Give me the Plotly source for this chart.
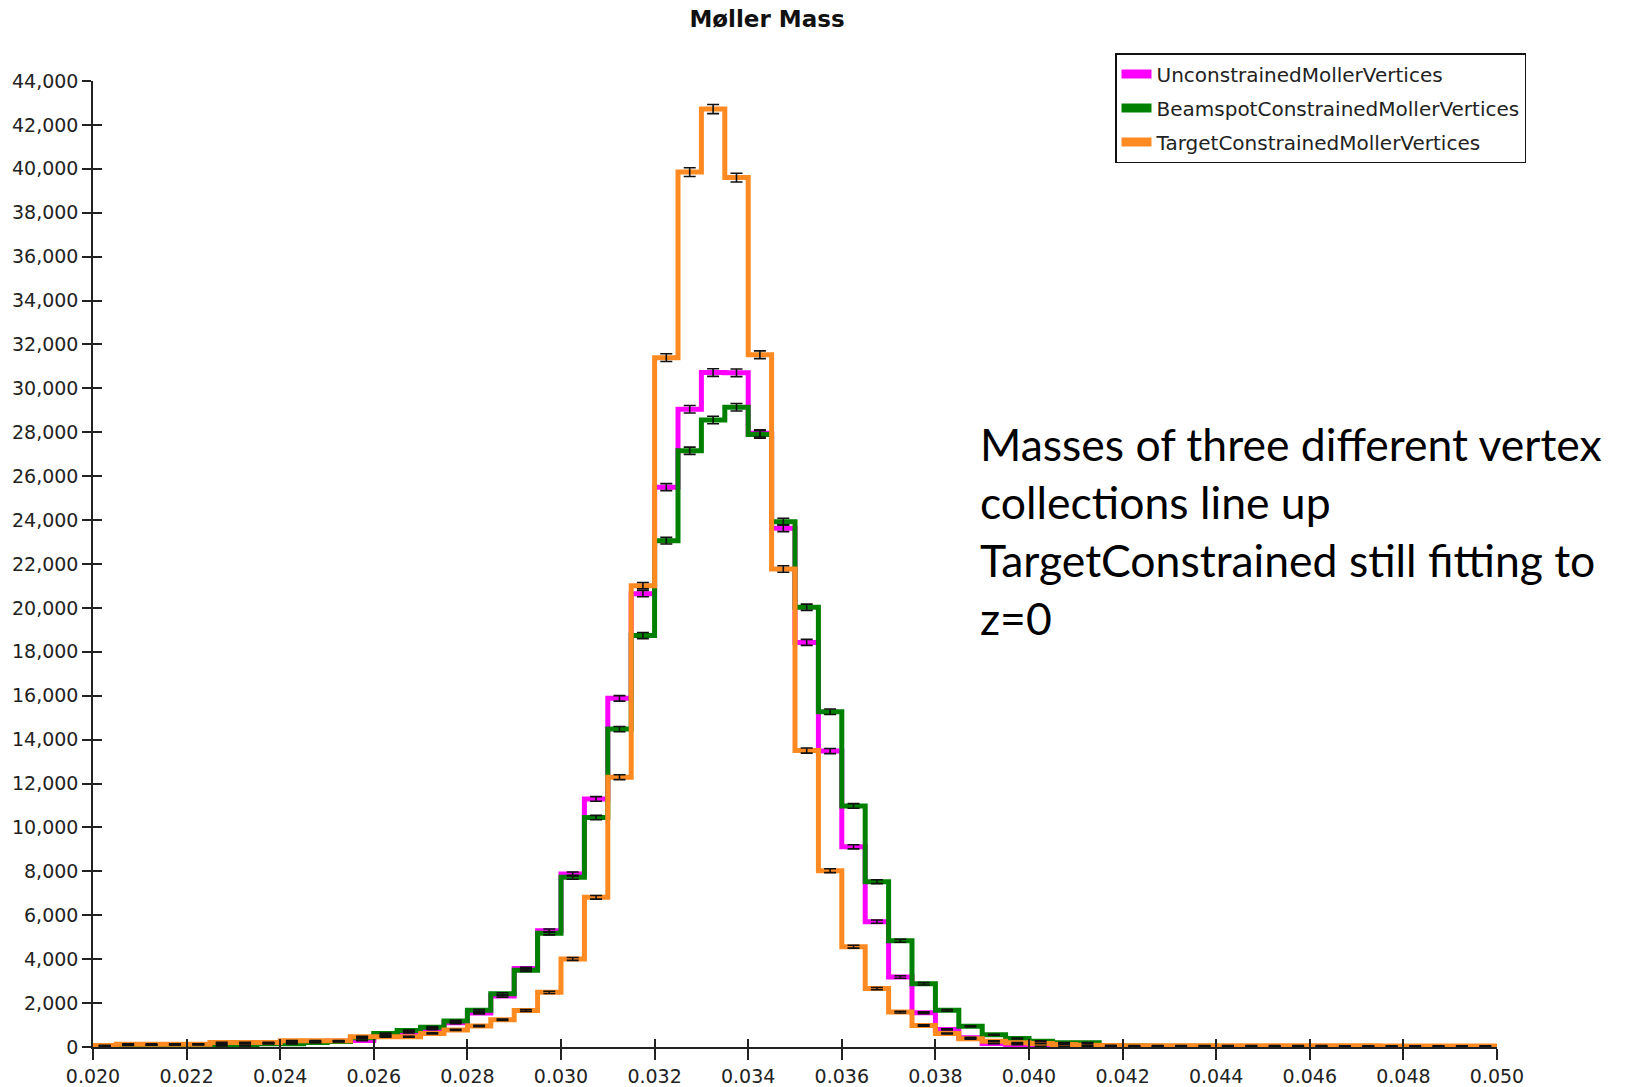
import numpy as np
import plotly.graph_objects as go

# ---- data (counts per bin, bins of width 0.0005 from 0.020 to 0.050) ----
bin_start = 0.020
bin_width = 0.0005

unconstrained = [40, 90, 95, 100, 110, 140, 150, 170, 210, 230,
                 260, 300, 520, 660, 820, 1100, 1550, 2320, 3570, 5300,
                 7880, 11300, 15880, 20650, 25500, 29050, 30720, 30710, 27950, 23630,
                 18430, 13480, 9120, 5710, 3190, 1560, 800, 420, 160, 110,
                 30, 20, 15, 12, 10, 10, 8, 8, 6, 6,
                 5, 5, 4, 4, 3, 3, 3, 2, 2, 2]
beamspot = [40, 80, 90, 100, 110, 60, 60, 150, 150, 200,
            250, 420, 615, 750, 900, 1180, 1670, 2420, 3500, 5180,
            7730, 10450, 14480, 18740, 23060, 27160, 28560, 29140, 27900, 23930,
            20030, 15270, 10980, 7530, 4840, 2880, 1670, 940, 560, 390,
            265, 190, 190, 50, 40, 35, 30, 30, 25, 25,
            20, 20, 20, 15, 15, 15, 12, 12, 10, 10]
target = [70, 130, 130, 130, 130, 205, 205, 205, 280, 280,
          280, 470, 465, 465, 620, 780, 960, 1240, 1660, 2490,
          4010, 6820, 12290, 21010, 31400, 39850, 42720, 39600, 31530, 21770,
          13500, 8030, 4570, 2660, 1590, 980, 615, 375, 265, 190,
          160, 114, 80, 65, 60, 60, 60, 58, 58, 55,
          55, 55, 55, 52, 52, 50, 50, 50, 50, 50]

series_names = ["UnconstrainedMollerVertices",
                "BeamspotConstrainedMollerVertices",
                "TargetConstrainedMollerVertices"]
series_values = [unconstrained, beamspot, target]
series_colors = ["#FF00FF", "#008000", "#FF8A22"]

x_tick_vals = [0.020, 0.022, 0.024, 0.026, 0.028, 0.030, 0.032, 0.034,
               0.036, 0.038, 0.040, 0.042, 0.044, 0.046, 0.048, 0.050]
y_tick_vals = list(range(0, 44001, 2000))

title_text = "Møller Mass"
note_lines = ["Masses of three different vertex",
              "collections line up",
              "TargetConstrained still fitting to",
              "z=0"]

# ---- build figure ----
n_bins = len(target)
edges = bin_start + bin_width * np.arange(n_bins + 1)
centers = edges[:-1] + bin_width / 2

fig = go.Figure()

for name, vals, col in zip(series_names, series_values, series_colors):
    v = np.asarray(vals, dtype=float)
    fig.add_trace(go.Scatter(
        x=edges, y=np.append(v, v[-1]), mode="lines",
        line=dict(color=col, width=5, shape="hv"),
        showlegend=False, hoverinfo="skip"))

for name, vals, col in zip(series_names, series_values, series_colors):
    v = np.asarray(vals, dtype=float)
    fig.add_trace(go.Scatter(
        x=centers, y=v, mode="markers",
        marker=dict(size=1, color="rgba(0,0,0,0)"),
        error_y=dict(type="data", array=np.sqrt(v), color="#111111",
                     thickness=1.6, width=6),
        showlegend=False, hoverinfo="skip"))

# legend-only entries (thick swatches)
for i, (name, col) in enumerate(zip(series_names, series_colors)):
    fig.add_trace(go.Scatter(
        x=[None], y=[None], mode="lines", name=name,
        line=dict(color=col, width=9), legendgroup=f"g{i}"))

# dummy trace for the inner-tick overlay axes
fig.add_trace(go.Scatter(x=[None], y=[None], xaxis="x2", yaxis="y2",
                         showlegend=False, hoverinfo="skip"))

axis_font = dict(family="DejaVu Sans", size=19, color="#222222")
x_range = [edges[0], edges[-1]]
y_range = [0, 44000]

fig.update_layout(
    width=1627, height=1087,
    paper_bgcolor="white", plot_bgcolor="white",
    margin=dict(l=93, r=130, t=81, b=40, autoexpand=False),
    title=dict(text=title_text, x=767 / 1627, xref="container", xanchor="center",
               y=1 - 19 / 1087, yref="container", yanchor="middle",
               font=dict(family="DejaVu Sans", size=23, color="#111111", weight="bold")),
    xaxis=dict(range=x_range, tickvals=x_tick_vals, tickformat=".3f",
               ticks="outside", ticklen=11, tickwidth=1.5, tickcolor="#222222",
               showline=True, linecolor="#222222", linewidth=1.5,
               showgrid=False, zeroline=False, tickfont=axis_font),
    yaxis=dict(range=y_range, tickvals=y_tick_vals, tickformat=",d",
               ticks="outside", ticklen=9, tickwidth=1.5, tickcolor="#222222",
               showline=True, linecolor="#222222", linewidth=1.5,
               showgrid=False, zeroline=False, tickfont=axis_font),
    xaxis2=dict(range=x_range, tickvals=x_tick_vals, overlaying="x", anchor="y",
                side="bottom", ticks="inside", ticklen=8, tickwidth=1.5,
                tickcolor="#222222", showticklabels=False, showline=False,
                showgrid=False, zeroline=False),
    yaxis2=dict(range=y_range, tickvals=y_tick_vals, overlaying="y", anchor="x",
                side="left", ticks="inside", ticklen=9, tickwidth=1.5,
                tickcolor="#222222", showticklabels=False, showline=False,
                showgrid=False, zeroline=False),
    legend=dict(x=1115 / 1627, xref="container", xanchor="left",
                y=1 - 53 / 1087, yref="container", yanchor="top",
                bgcolor="white", bordercolor="#111111", borderwidth=1.5,
                font=dict(family="DejaVu Sans", size=20, color="#222222"),
                tracegroupgap=5),
    showlegend=True,
)

fig.add_annotation(
    text="<br>".join(note_lines), xref="paper", yref="paper",
    x=(978 - 93) / 1404, y=(1047 - 530) / 966, xanchor="left", yanchor="middle",
    align="left", showarrow=False,
    font=dict(family="Lato", size=44.5, color="black"))

fig.write_html("out.html", config={"displayModeBar": False},
               post_script="document.body.style.margin='0';document.body.style.overflow='hidden';")
